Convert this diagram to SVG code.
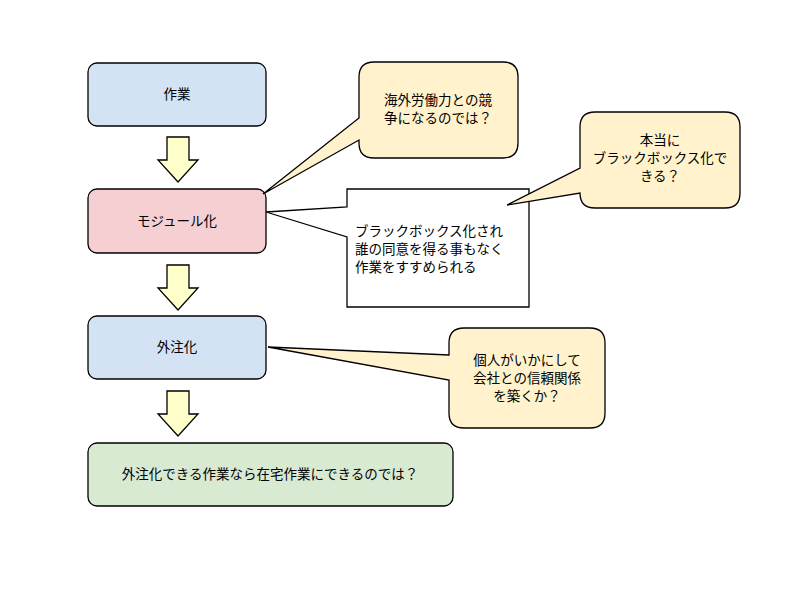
<svg xmlns="http://www.w3.org/2000/svg" width="800" height="600" viewBox="0 0 800 600">
<style>
text{font-family:"Noto Sans CJK JP","Liberation Sans",sans-serif;font-size:13.5px;fill:#000;text-anchor:middle}
.n{stroke:#000;stroke-width:1.3}
.c{fill:#fff2cc;stroke:#000;stroke-width:1.3}
.a{fill:#ffffcc;stroke:#000;stroke-width:1.3}
</style>
<rect width="800" height="600" fill="#fff"/>
<g id="n1"><rect class="n" x="88" y="63" width="178" height="63" rx="9" fill="#d4e3f3"/><text x="177" y="99">作業</text></g>
<g id="n2"><rect class="n" x="88" y="189" width="178" height="64" rx="9" fill="#f5cfd2"/><text x="177" y="226">モジュール化</text></g>
<g id="n3"><rect class="n" x="88" y="316" width="178" height="63" rx="9" fill="#d4e3f3"/><text x="177" y="352">外注化</text></g>
<g id="n4"><rect class="n" x="88" y="443" width="365" height="63" rx="9" fill="#d9ead3"/><text x="270" y="479">外注化できる作業なら在宅作業にできるのでは？</text></g>
<g id="connectors">
<path class="a" d="M167 137H189V160H198L178 182L158 160H167Z"/>
<path class="a" d="M167 265H189V288H198L178 310L158 288H167Z"/>
<path class="a" d="M167 391H189V414H198L178 436L158 414H167Z"/>
</g>
<g id="c1"><path class="c" d="M374 62H503Q518 62 518 77V143Q518 158 503 158H374Q359 158 359 143V140L263 194L359 118V77Q359 62 374 62Z"/><text x="438" y="105">海外労働力との競</text><text x="438" y="123">争になるのでは？</text></g>
<g id="c2"><path d="M347 189H529V307H347V237L266 212L347 207Z" fill="#fff" stroke="#000" stroke-width="1.3"/><text x="355" y="236" style="text-anchor:start">ブラックボックス化され</text><text x="355" y="254" style="text-anchor:start">誰の同意を得る事もなく</text><text x="355" y="272" style="text-anchor:start">作業をすすめられる</text></g>
<g id="c3"><path class="c" d="M595 112H725Q740 112 740 127V193Q740 208 725 208H595Q580 208 580 193L507 205L580 168V127Q580 112 595 112Z"/><text x="660" y="145">本当に</text><text x="660" y="163">ブラックボックス化で</text><text x="660" y="181">きる？</text></g>
<g id="c4"><path class="c" d="M464 328H590Q605 328 605 343V413Q605 428 590 428H464Q449 428 449 413V380L268 347L449 355V343Q449 328 464 328Z"/><text x="527" y="365">個人がいかにして</text><text x="527" y="383">会社との信頼関係</text><text x="527" y="401">を築くか？</text></g>
</svg>
